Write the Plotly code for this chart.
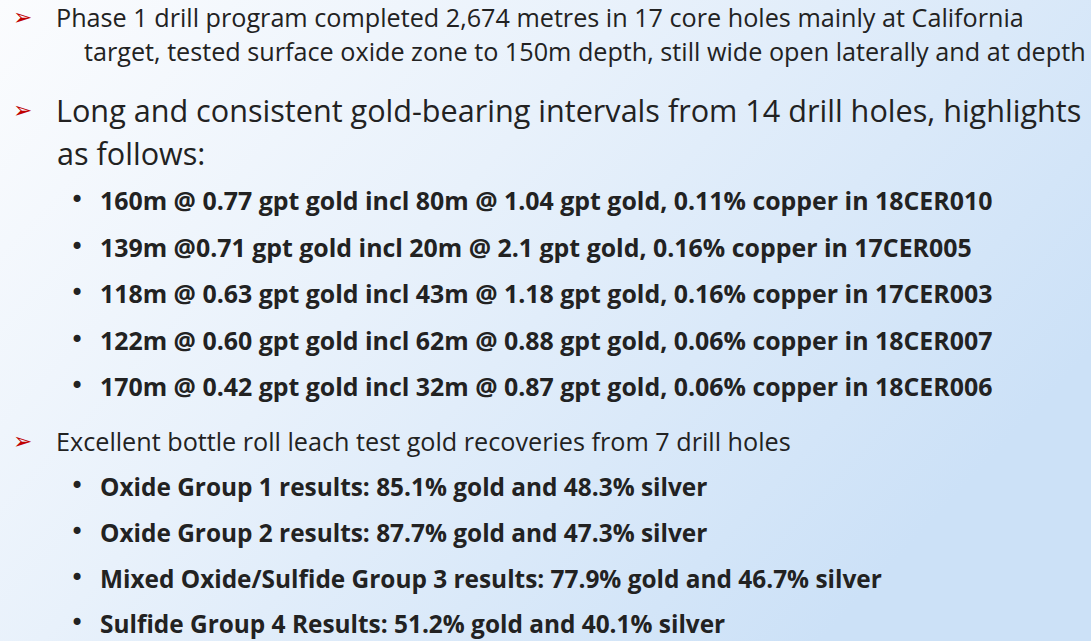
import base64
import plotly.graph_objects as go

W, H = 1091, 641

# ---- slide content ----
section_texts = [
    "Phase 1 drill program completed 2,674 metres in 17 core holes mainly at California",
    "Long and consistent gold-bearing intervals from 14 drill holes, highlights",
    "Excellent bottle roll leach test gold recoveries from 7 drill holes",
]
section_continuations = [
    "target, tested surface oxide zone to 150m depth, still wide open laterally and at depth",
    "as follows:",
    None,
]
drill_highlights = [
    "160m @ 0.77 gpt gold incl 80m @ 1.04 gpt gold, 0.11% copper in 18CER010",
    "139m @0.71 gpt gold incl 20m @ 2.1 gpt gold, 0.16% copper in 17CER005",
    "118m @ 0.63 gpt gold incl 43m @ 1.18 gpt gold, 0.16% copper in 17CER003",
    "122m @ 0.60 gpt gold incl 62m @ 0.88 gpt gold, 0.06% copper in 18CER007",
    "170m @ 0.42 gpt gold incl 32m @ 0.87 gpt gold, 0.06% copper in 18CER006",
]
recovery_results = [
    "Oxide Group 1 results: 85.1% gold and 48.3% silver",
    "Oxide Group 2 results: 87.7% gold and 47.3% silver",
    "Mixed Oxide/Sulfide Group 3 results: 77.9% gold and 46.7% silver",
    "Sulfide Group 4 Results: 51.2% gold and 40.1% silver",
]

# ---- layout constants (pixels from top-left) ----
FONT = "Open Sans"
TEXT_COLOR = "#222222"
ARROW_COLOR = "#c00000"

section_y = [17, 110, 441]
section_size = [25.2, 30.6, 25.2]
cont_x = [82, 55, None]
cont_y = [51, 153, None]
highlight_y = [200, 247, 293, 340, 386]
result_y = [486, 532, 578, 623]
BOLD_SIZES_H = [24.9, 24.9, 24.9, 24.9, 24.9]
BOLD_SIZES_R = [24.4, 24.4, 24.4, 24.4]


def px(x):
    return x / W


def py(y):
    return 1 - y / H


annotations = []


def add_text(x, y, text, size, bold=False, color=TEXT_COLOR, family=FONT):
    annotations.append(dict(
        x=px(x), y=py(y), xref="paper", yref="paper",
        xanchor="left", yanchor="middle", showarrow=False,
        text=f"<b>{text}</b>" if bold else text,
        font=dict(family=family, size=size, color=color),
    ))


for i, t in enumerate(section_texts):
    add_text(11, section_y[i], "➢", 23, color=ARROW_COLOR, family="DejaVu Sans")
    add_text(54, section_y[i], t, section_size[i])
    if section_continuations[i]:
        add_text(cont_x[i], cont_y[i], section_continuations[i], section_size[i])

for y, t, s in zip(highlight_y, drill_highlights, BOLD_SIZES_H):
    add_text(68, y, "•", 24, family="DejaVu Sans")
    add_text(98, y, t, s, bold=True)

for y, t, s in zip(result_y, recovery_results, BOLD_SIZES_R):
    add_text(68, y, "•", 24, family="DejaVu Sans")
    add_text(98, y, t, s, bold=True)

svg = f'''<svg xmlns="http://www.w3.org/2000/svg" width="{W}" height="{H}" viewBox="0 0 {W} {H}" preserveAspectRatio="none">
<defs><linearGradient id="g" x1="0" y1="0" x2="1" y2="0.55">
<stop offset="0" stop-color="#fbfcfe"/>
<stop offset="0.45" stop-color="#e8f1fb"/>
<stop offset="1" stop-color="#cce1f7"/>
</linearGradient></defs>
<rect width="{W}" height="{H}" fill="url(#g)"/></svg>'''
src = "data:image/svg+xml;base64," + base64.b64encode(svg.encode()).decode()

fig = go.Figure()
fig.update_layout(
    width=W, height=H, margin=dict(l=0, r=0, t=0, b=0),
    paper_bgcolor="#eef4fc", plot_bgcolor="rgba(0,0,0,0)",
    xaxis=dict(visible=False, range=[0, 1]),
    yaxis=dict(visible=False, range=[0, 1]),
    showlegend=False,
    annotations=annotations,
    images=[dict(source=src, xref="paper", yref="paper", x=0, y=1,
                 sizex=1, sizey=1, sizing="stretch", xanchor="left",
                 yanchor="top", layer="below")],
)
fig.write_html("out.html", config={"displayModeBar": False},
               post_script="document.body.style.margin='0';")
